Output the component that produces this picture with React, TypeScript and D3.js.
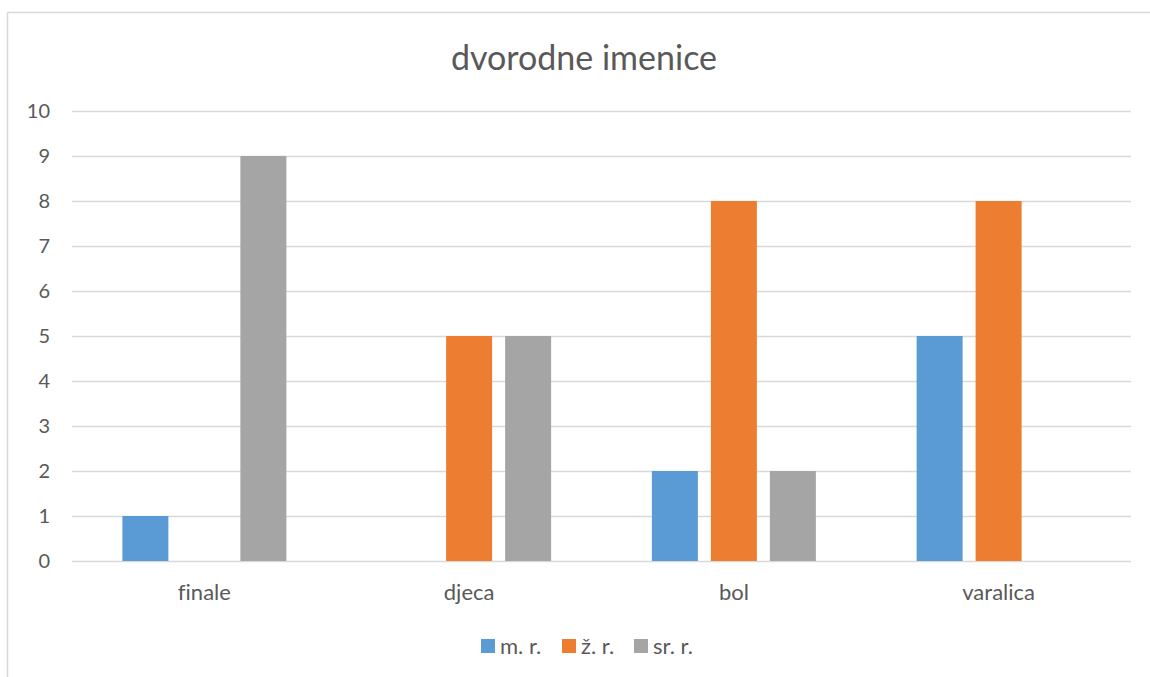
import React from "react";
import * as d3 from "d3";

const categories = ["finale", "djeca", "bol", "varalica"];
const seriesNames = ["m. r.", "ž. r.", "sr. r."];
const seriesColors = ["#5B9BD5", "#ED7D31", "#A5A5A5"];
const mr = [1, 0, 2, 5];
const zr = [0, 5, 8, 8];
const srr = [9, 5, 2, 0];
const yTicks = [0, 1, 2, 3, 4, 5, 6, 7, 8, 9, 10];
const title = "dvorodne imenice";

const W = 1150;
const H = 677;
const FONT = "Lato, 'Open Sans', sans-serif";
const TEXT = "#595959";

export default function App() {
  const values = [mr, zr, srr];
  const left = 72;
  const right = 1131;
  const top = 111;
  const bottom = 561;

  const x0 = d3.scaleBand<string>().domain(categories).range([left, right]).paddingInner(0).paddingOuter(0);
  const y = d3.scaleLinear().domain([0, 10]).range([bottom, top]);
  const barW = 46;
  const gap = 13;
  const groupW = barW * 3 + gap * 2;

  const legendX = [481, 562, 634];
  const textStyle = { fontVariantLigatures: "none" } as React.CSSProperties;

  return (
    <svg width={W} height={H} style={{ position: "fixed", left: 0, top: 0, background: "#fff" }}>
      <rect x={7.5} y={12.5} width={1200} height={700} fill="#fff" stroke="#D9D9D9" strokeWidth={1.5} />
      <text x={584} y={70} textAnchor="middle" fontFamily={FONT} fontSize={34} fill={TEXT} style={textStyle}>
        {title}
      </text>
      {yTicks.map((t) => (
        <g key={t}>
          <line x1={left} x2={right} y1={Math.round(y(t)) + 0.5} y2={Math.round(y(t)) + 0.5} stroke="#D9D9D9" strokeWidth={1.5} />
          <text x={50} y={y(t)} dy="0.35em" textAnchor="end" fontFamily={FONT} fontSize={20} fill={TEXT}>
            {t}
          </text>
        </g>
      ))}
      {categories.map((c, i) => {
        const cx = (x0(c) as number) + x0.bandwidth() / 2;
        const start = cx - groupW / 2;
        return (
          <g key={c}>
            {values.map((vals, s) =>
              vals[i] > 0 ? (
                <rect
                  key={s}
                  x={start + s * (barW + gap)}
                  y={y(vals[i])}
                  width={barW}
                  height={y(0) - y(vals[i])}
                  fill={seriesColors[s]}
                />
              ) : null
            )}
            <text x={cx} y={600} textAnchor="middle" fontFamily={FONT} fontSize={22} fill={TEXT} style={textStyle}>
              {c}
            </text>
          </g>
        );
      })}
      {seriesNames.map((n, s) => (
        <g key={n}>
          <rect x={legendX[s]} y={639} width={14} height={14} fill={seriesColors[s]} />
          <text x={legendX[s] + 19} y={654} fontFamily={FONT} fontSize={22} fill={TEXT} style={textStyle}>
            {n}
          </text>
        </g>
      ))}
    </svg>
  );
}
